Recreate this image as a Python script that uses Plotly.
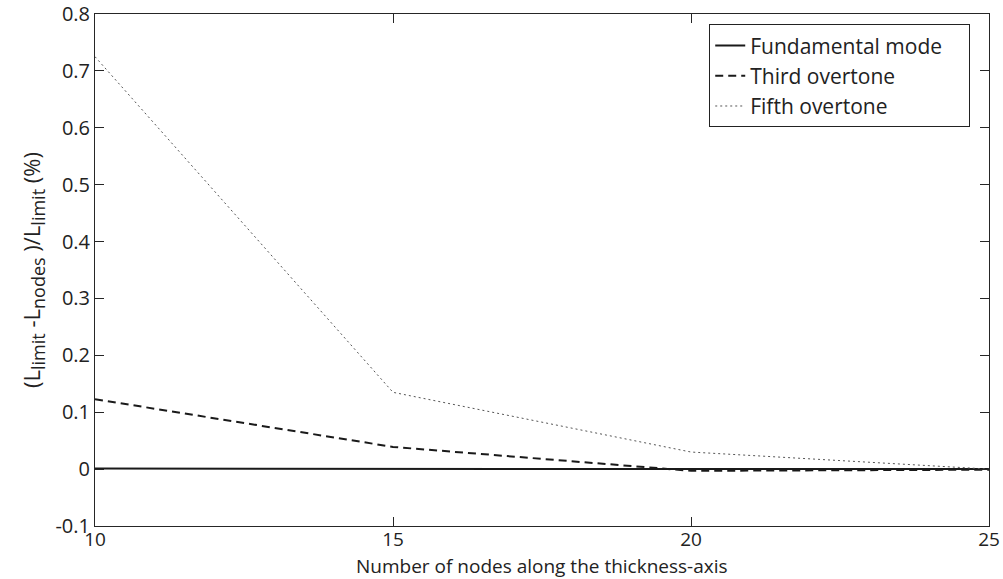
import plotly.graph_objects as go

nodes = [10, 15, 20, 25]
fundamental = [0.001, 0.0, 0.0, 0.0]
third = [0.123, 0.039, -0.003, -0.001]
fifth = [0.725, 0.135, 0.030, 0.0]

series_names = ["Fundamental mode", "Third overtone", "Fifth overtone"]
y_ticks = [-0.1, 0, 0.1, 0.2, 0.3, 0.4, 0.5, 0.6, 0.7, 0.8]
y_ticktext = ["-0.1", "0", "0.1", "0.2", "0.3", "0.4", "0.5", "0.6", "0.7", "0.8"]
x_ticks = [10, 15, 20, 25]
x_title = "Number of nodes along the thickness-axis"

FONT = "Open Sans"
AX = "#262626"
PAD = "\u00a0\u00a0\u00a0\u00a0"

fig = go.Figure()
fig.add_trace(go.Scatter(x=nodes, y=fundamental, mode="lines", name=series_names[0] + PAD,
                         legendgroup="a",
                         line=dict(color="#1a1a1a", width=2, dash="solid")))
fig.add_trace(go.Scatter(x=nodes, y=third, mode="lines", name=series_names[1] + PAD,
                         legendgroup="b",
                         line=dict(color="#1a1a1a", width=2, dash="8px,5px")))
fig.add_trace(go.Scatter(x=nodes, y=fifth, mode="lines", name=series_names[2] + PAD,
                         legendgroup="c",
                         line=dict(color="#555555", width=1, dash="2px,3px")))

axis_common = dict(showgrid=False, zeroline=False, showline=True, linecolor=AX, linewidth=1,
                   mirror="ticks", ticks="inside", ticklen=9, tickcolor=AX, tickwidth=1,
                   automargin=False)

sub = '<sub><span style="font-size:18px">{}</span></sub>'
y_title = "(L" + sub.format("limit") + " -L" + sub.format("nodes") + " )/L" + sub.format("limit") + " (%)"

fig.update_layout(
    width=1003, height=579,
    margin=dict(l=95, r=14, t=14, b=53),
    paper_bgcolor="white", plot_bgcolor="white",
    font=dict(family=FONT, color="#222"),
    xaxis=dict(range=[10, 25], tickvals=x_ticks, ticklabelstandoff=-4,
               tickfont=dict(family=FONT, size=19, color="#222"), **axis_common),
    yaxis=dict(range=[-0.1, 0.8], tickvals=y_ticks, ticktext=y_ticktext,
               tickfont=dict(family=FONT, size=20, color="#222"),
               title=dict(text=y_title, font=dict(family=FONT, size=22), standoff=8),
               **axis_common),
    legend=dict(x=0.979, y=0.98, xanchor="right", yanchor="top",
                bordercolor="#222", borderwidth=1, bgcolor="white",
                font=dict(family=FONT, size=21, color="#222"),
                tracegroupgap=0, itemwidth=30),
    showlegend=True,
    annotations=[dict(text=x_title, xref="paper", yref="paper", x=0.5, y=-53 / 512,
                      xanchor="center", yanchor="bottom", yshift=-1, showarrow=False,
                      borderpad=0,
                      font=dict(family=FONT, size=19, color="#222"))],
)

fig.write_html("out.html")
